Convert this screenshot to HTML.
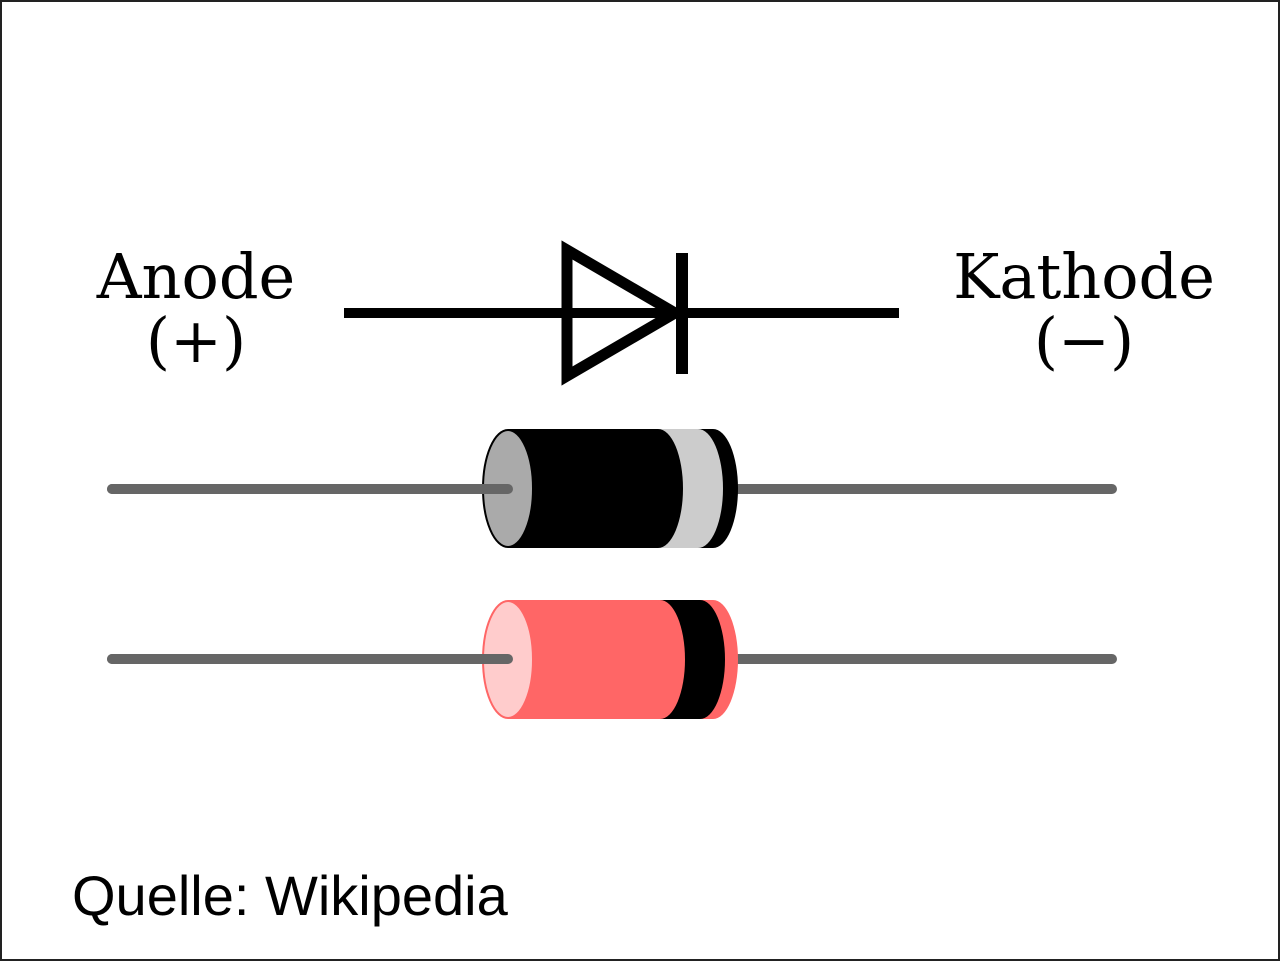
<!DOCTYPE html>
<html><head><style>
html,body{margin:0;padding:0;background:#fff}
svg{display:block}
</style></head><body>
<svg width="1280" height="961" viewBox="0 0 1280 961" xmlns="http://www.w3.org/2000/svg">
<rect x="1" y="1" width="1278" height="959" fill="#fff" stroke="#222" stroke-width="2"/>
<g font-family="'DejaVu Serif',serif" font-size="62" text-anchor="middle" fill="#000">
<text x="196" y="298">Anode</text>
<text x="196" y="362">(+)</text>
<text x="1084" y="298">Kathode</text>
<text x="1084" y="362">(−)</text>
</g>
<line x1="344" y1="313" x2="899" y2="313" stroke="#000" stroke-width="10"/>
<polygon points="567,250 567,376 675,313" fill="none" stroke="#000" stroke-width="11"/>
<rect x="676" y="253" width="12" height="121" fill="#000"/>
<line x1="112" y1="489" x2="1112" y2="489" stroke="#666" stroke-width="10" stroke-linecap="round"/>
<path d="M508,429 H713 A25,59.5 0 0 1 713,548 H508 Z" fill="#000"/>
<path d="M658,429 H698 A25,59.5 0 0 1 698,548 H658 Z" fill="#ccc"/>
<path d="M508,429 H658 A25,59.5 0 0 1 658,548 H508 Z" fill="#000"/>
<ellipse cx="508" cy="488.5" rx="25" ry="58.5" fill="#aaa" stroke="#000" stroke-width="2"/>
<line x1="112" y1="489" x2="508" y2="489" stroke="#666" stroke-width="10" stroke-linecap="round"/>
<line x1="112" y1="659" x2="1112" y2="659" stroke="#666" stroke-width="10" stroke-linecap="round"/>
<path d="M508,600 H713 A25,59.5 0 0 1 713,719 H508 Z" fill="#f66"/>
<path d="M660,600 H700 A25,59.5 0 0 1 700,719 H660 Z" fill="#000"/>
<path d="M508,600 H660 A25,59.5 0 0 1 660,719 H508 Z" fill="#f66"/>
<ellipse cx="508" cy="659.5" rx="25" ry="58.5" fill="#fcc" stroke="#f66" stroke-width="2"/>
<line x1="112" y1="659" x2="508" y2="659" stroke="#666" stroke-width="10" stroke-linecap="round"/>
<text x="72" y="915" font-family="'Liberation Sans',sans-serif" font-size="56" fill="#000">Quelle: Wikipedia</text>
</svg>
</body></html>
